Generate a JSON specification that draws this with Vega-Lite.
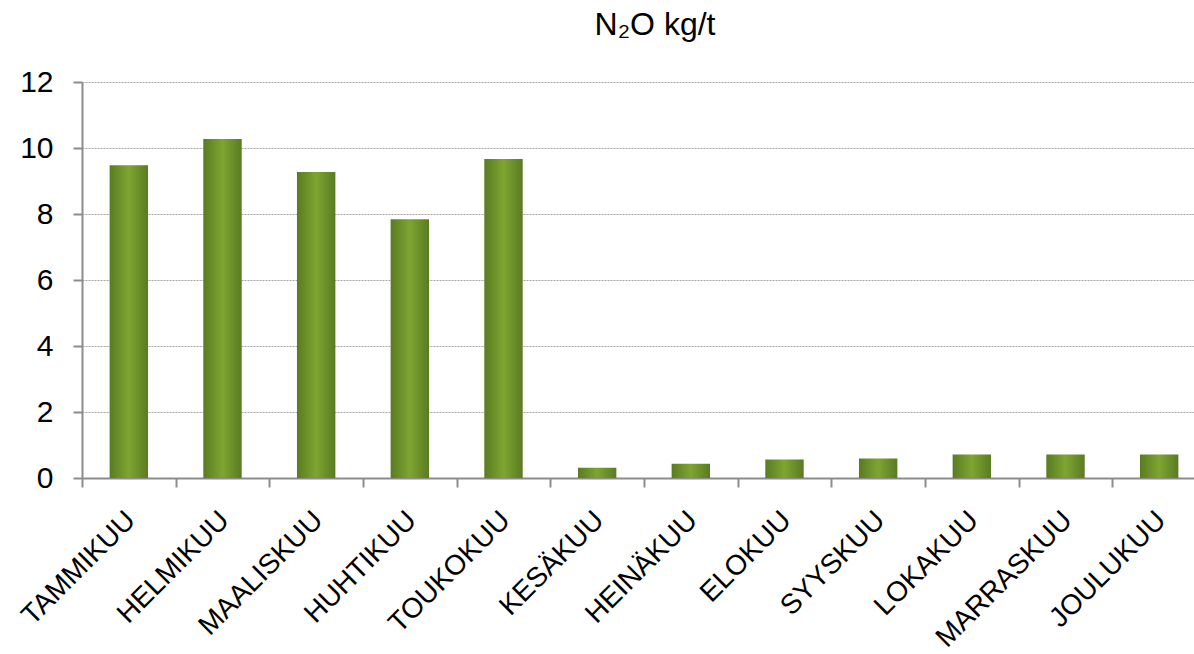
{
  "$schema": "https://vega.github.io/schema/vega-lite/v6.json",
  "autosize": {"type": "none"},
  "width": 1112,
  "height": 396,
  "padding": {"top": 82, "left": 82, "right": 0, "bottom": 176},
  "background": "white",
  "title": {
    "text": "N₂O kg/t",
    "font": "Liberation Sans",
    "fontSize": 32,
    "fontWeight": "normal",
    "color": "#000000",
    "baseline": "alphabetic",
    "anchor": "middle",
    "offset": 0,
    "dx": 17
  },
  "config": {
    "view": {"stroke": null},
    "axis": {
      "labelFont": "Liberation Sans",
      "labelColor": "#000000",
      "domainColor": "#8c8c8c",
      "domainWidth": 2,
      "tickColor": "#8c8c8c",
      "tickWidth": 2,
      "tickSize": 9
    }
  },
  "data": {
    "values": [
      {"month": "TAMMIKUU", "value": 9.48},
      {"month": "HELMIKUU", "value": 10.27},
      {"month": "MAALISKUU", "value": 9.27},
      {"month": "HUHTIKUU", "value": 7.84},
      {"month": "TOUKOKUU", "value": 9.67},
      {"month": "KESÄKUU", "value": 0.31},
      {"month": "HEINÄKUU", "value": 0.43},
      {"month": "ELOKUU", "value": 0.56},
      {"month": "SYYSKUU", "value": 0.59},
      {"month": "LOKAKUU", "value": 0.71},
      {"month": "MARRASKUU", "value": 0.71},
      {"month": "JOULUKUU", "value": 0.71}
    ]
  },
  "mark": {
    "type": "bar",
    "width": {"band": 0.41},
    "color": {
      "gradient": "linear",
      "x1": 0, "y1": 0, "x2": 1, "y2": 0,
      "stops": [
        {"offset": 0, "color": "#5a7b22"},
        {"offset": 0.5, "color": "#7ea531"},
        {"offset": 1, "color": "#5a7b22"}
      ]
    }
  },
  "encoding": {
    "x": {
      "field": "month",
      "type": "nominal",
      "sort": null,
      "scale": {"range": [0, 1124], "paddingInner": 0, "paddingOuter": 0},
      "axis": {
        "title": null,
        "labelAngle": -45,
        "labelAlign": "right",
        "labelBaseline": "top",
        "labelFontSize": 28,
        "labelPadding": 19,
        "labelOffset": -8,
        "labelLimit": 0,
        "labelOverlap": false,
        "tickBand": "extent",
        "grid": false
      }
    },
    "y": {
      "field": "value",
      "type": "quantitative",
      "scale": {"domain": [0, 12], "nice": false},
      "axis": {
        "title": null,
        "values": [0, 2, 4, 6, 8, 10, 12],
        "labelFontSize": 30,
        "labelPadding": 20,
        "grid": true,
        "gridColor": "#a6a6a6",
        "gridDash": [2, 1],
        "gridWidth": 1
      }
    }
  }
}
